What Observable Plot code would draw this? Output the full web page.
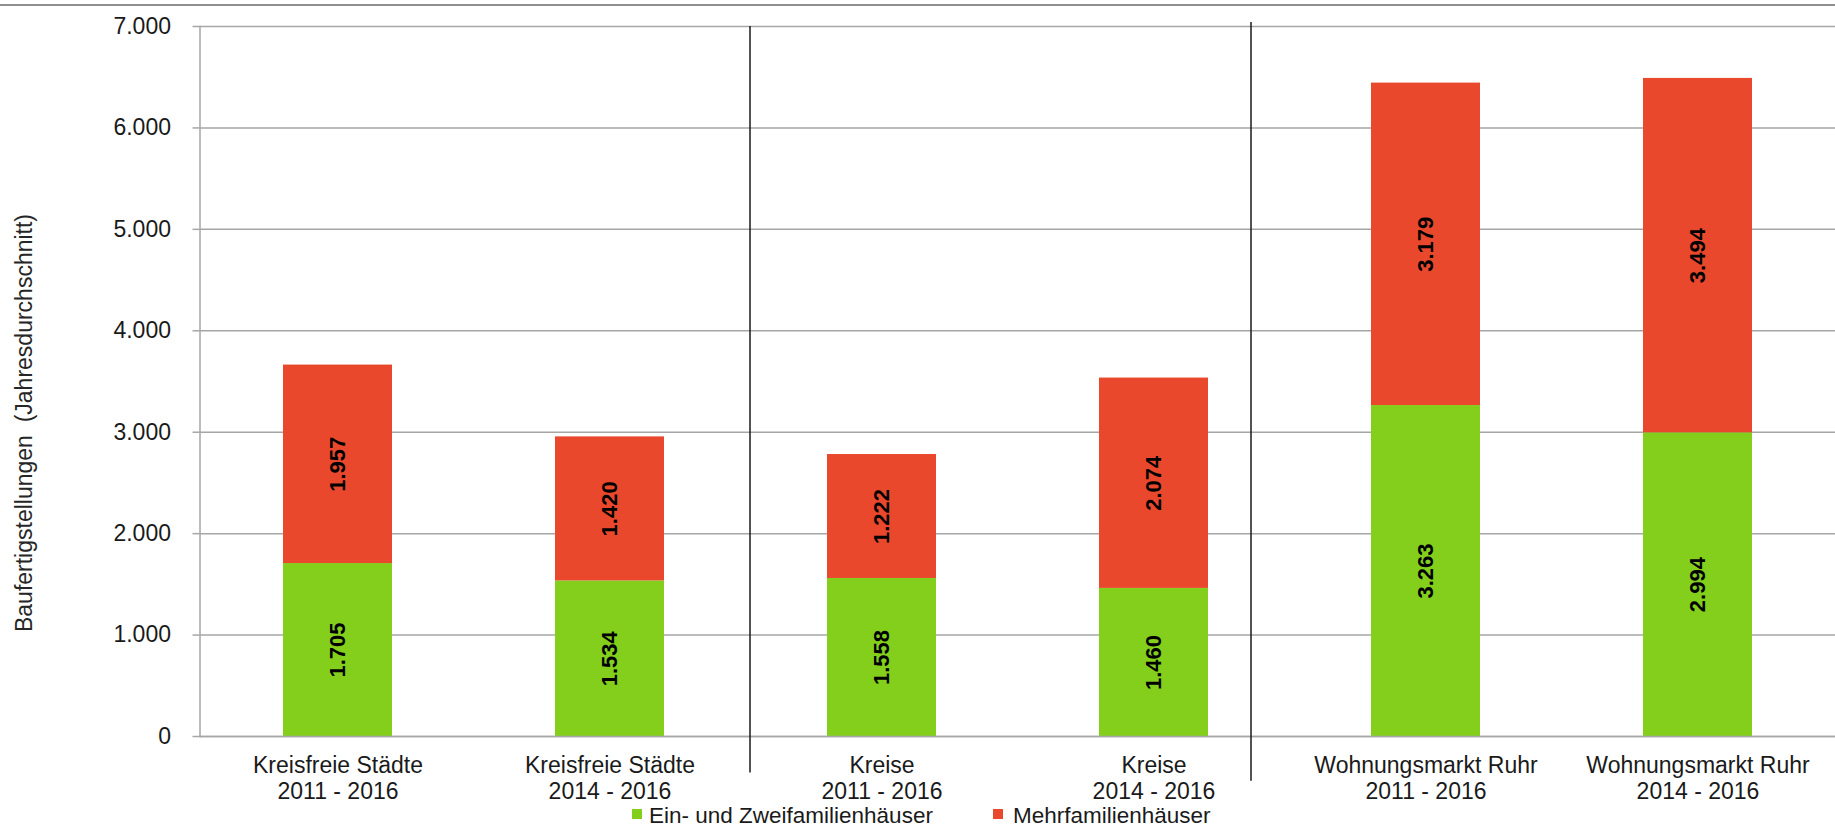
<!DOCTYPE html>
<html>
<head>
<meta charset="utf-8">
<script src="https://cdn.jsdelivr.net/npm/d3@7"></script>
<script src="https://cdn.jsdelivr.net/npm/@observablehq/plot@0.6"></script>
<style>
  html, body { margin: 0; padding: 0; background: #fff; overflow: hidden; }
  #wrap { position: relative; width: 1835px; height: 828px; font-family: "Liberation Sans", Arial, sans-serif; color: #1a1a1a; }
  #topline { position: absolute; left: 0; top: 4px; width: 1835px; height: 0; border-top: 2px solid #8f8f8f; }
  #ytitle { position: absolute; left: 24px; top: 423px; transform: translate(-50%, -50%) rotate(-90deg); white-space: pre; font-size: 23px; line-height: 23px; color: #262626; }
  .lg-sw { position: absolute; width: 10px; height: 10px; top: 809px; }
  .lg-tx { position: absolute; top: 809.4px; font-size: 22.5px; line-height: 14px; height: 14px; white-space: nowrap; color: #1a1a1a; }
  #chart { position: absolute; left: 0; top: 0; }
</style>
</head>
<body>
<div id="wrap">
  <div id="topline"></div>
  <div id="chart"></div>
  <div id="ytitle"></div>
  <div id="legend"></div>
</div>
<script>
// ---- data ----
const categories = [
  "Kreisfreie Städte\n2011 - 2016",
  "Kreisfreie Städte\n2014 - 2016",
  "Kreise\n2011 - 2016",
  "Kreise\n2014 - 2016",
  "Wohnungsmarkt Ruhr\n2011 - 2016",
  "Wohnungsmarkt Ruhr\n2014 - 2016"
];
const series = ["Ein- und Zweifamilienhäuser", "Mehrfamilienhäuser"];
const einZweifamilien = [1705, 1534, 1558, 1460, 3263, 2994];
const mehrfamilien = [1957, 1420, 1222, 2074, 3179, 3494];
const yTicks = [0, 1000, 2000, 3000, 4000, 5000, 6000, 7000];
const yTitle = "Baufertigstellungen  (Jahresdurchschnitt)";
const colors = ["#83cf1c", "#e9482c"];
// separators drawn before these categories (top / bottom in data units)
const separators = [
  {at: categories[2], top: 7000, bottom: -360},
  {at: categories[4], top: 7040, bottom: -440}
];

// ---- build table ----
const seriesValues = [einZweifamilien, mehrfamilien];
const data = [];
series.forEach((s, si) => {
  categories.forEach((c, ci) => {
    data.push({category: c, series: s, value: seriesValues[si][ci]});
  });
});

const locale = d3.formatLocale({decimal: ",", thousands: ".", grouping: [3], currency: ["", "€"]});
const fmt = locale.format(",d");

const gridColor = "#a6a6a6";
const sepDx = [-132, -175];

const chart = Plot.plot({
  width: 1835,
  height: 828,
  marginTop: 26,
  marginBottom: 92,
  marginLeft: 199.5,
  marginRight: 0,
  style: {
    fontFamily: '"Liberation Sans", Arial, sans-serif',
    fontSize: "23px",
    color: "#1a1a1a",
    background: "transparent",
    overflow: "visible"
  },
  x: {domain: categories, paddingInner: 0.6, paddingOuter: 0.3, axis: null},
  y: {domain: [0, 7000], axis: null},
  color: {domain: series, range: colors},
  marks: [
    Plot.gridY(yTicks, {stroke: gridColor, strokeOpacity: 1, strokeWidth: 1.5}),
    Plot.axisY({ticks: yTicks, tickFormat: fmt, tickSize: 7, tickPadding: 22, stroke: gridColor, strokeWidth: 1.5, strokeOpacity: 1, label: null, fontSize: 23}),
    Plot.barY(data, {x: "category", y: "value", fill: "series"}),
    Plot.text(data, Plot.stackY({
      x: "category", y: "value",
      text: d => fmt(d.value),
      rotate: -90, fontWeight: "bold", fontSize: 22, fill: "#000"
    })),
    Plot.ruleY([0], {stroke: gridColor, strokeWidth: 1.5}),
    Plot.frame({anchor: "left", stroke: gridColor, strokeWidth: 1.5}),
    Plot.axisX({tickSize: 0, tickPadding: 19, lineHeight: 1.1, label: null, fontSize: 23, fill: "#1a1a1a"}),
    ...separators.map((s, i) => Plot.ruleX([s.at], {y1: s.top, y2: s.bottom, dx: sepDx[i], stroke: "#1a1a1a", strokeWidth: 1.5}))
  ]
});
document.getElementById("chart").appendChild(chart);

document.getElementById("ytitle").textContent = yTitle;

// ---- legend ----
const legend = document.getElementById("legend");
const legendPos = [{sw: 632, tx: 649}, {sw: 993, tx: 1013}];
series.forEach((s, i) => {
  const sw = document.createElement("div");
  sw.className = "lg-sw";
  sw.style.left = legendPos[i].sw + "px";
  sw.style.background = colors[i];
  legend.appendChild(sw);
  const tx = document.createElement("div");
  tx.className = "lg-tx";
  tx.style.left = legendPos[i].tx + "px";
  tx.textContent = s;
  legend.appendChild(tx);
});
</script>
</body>
</html>
